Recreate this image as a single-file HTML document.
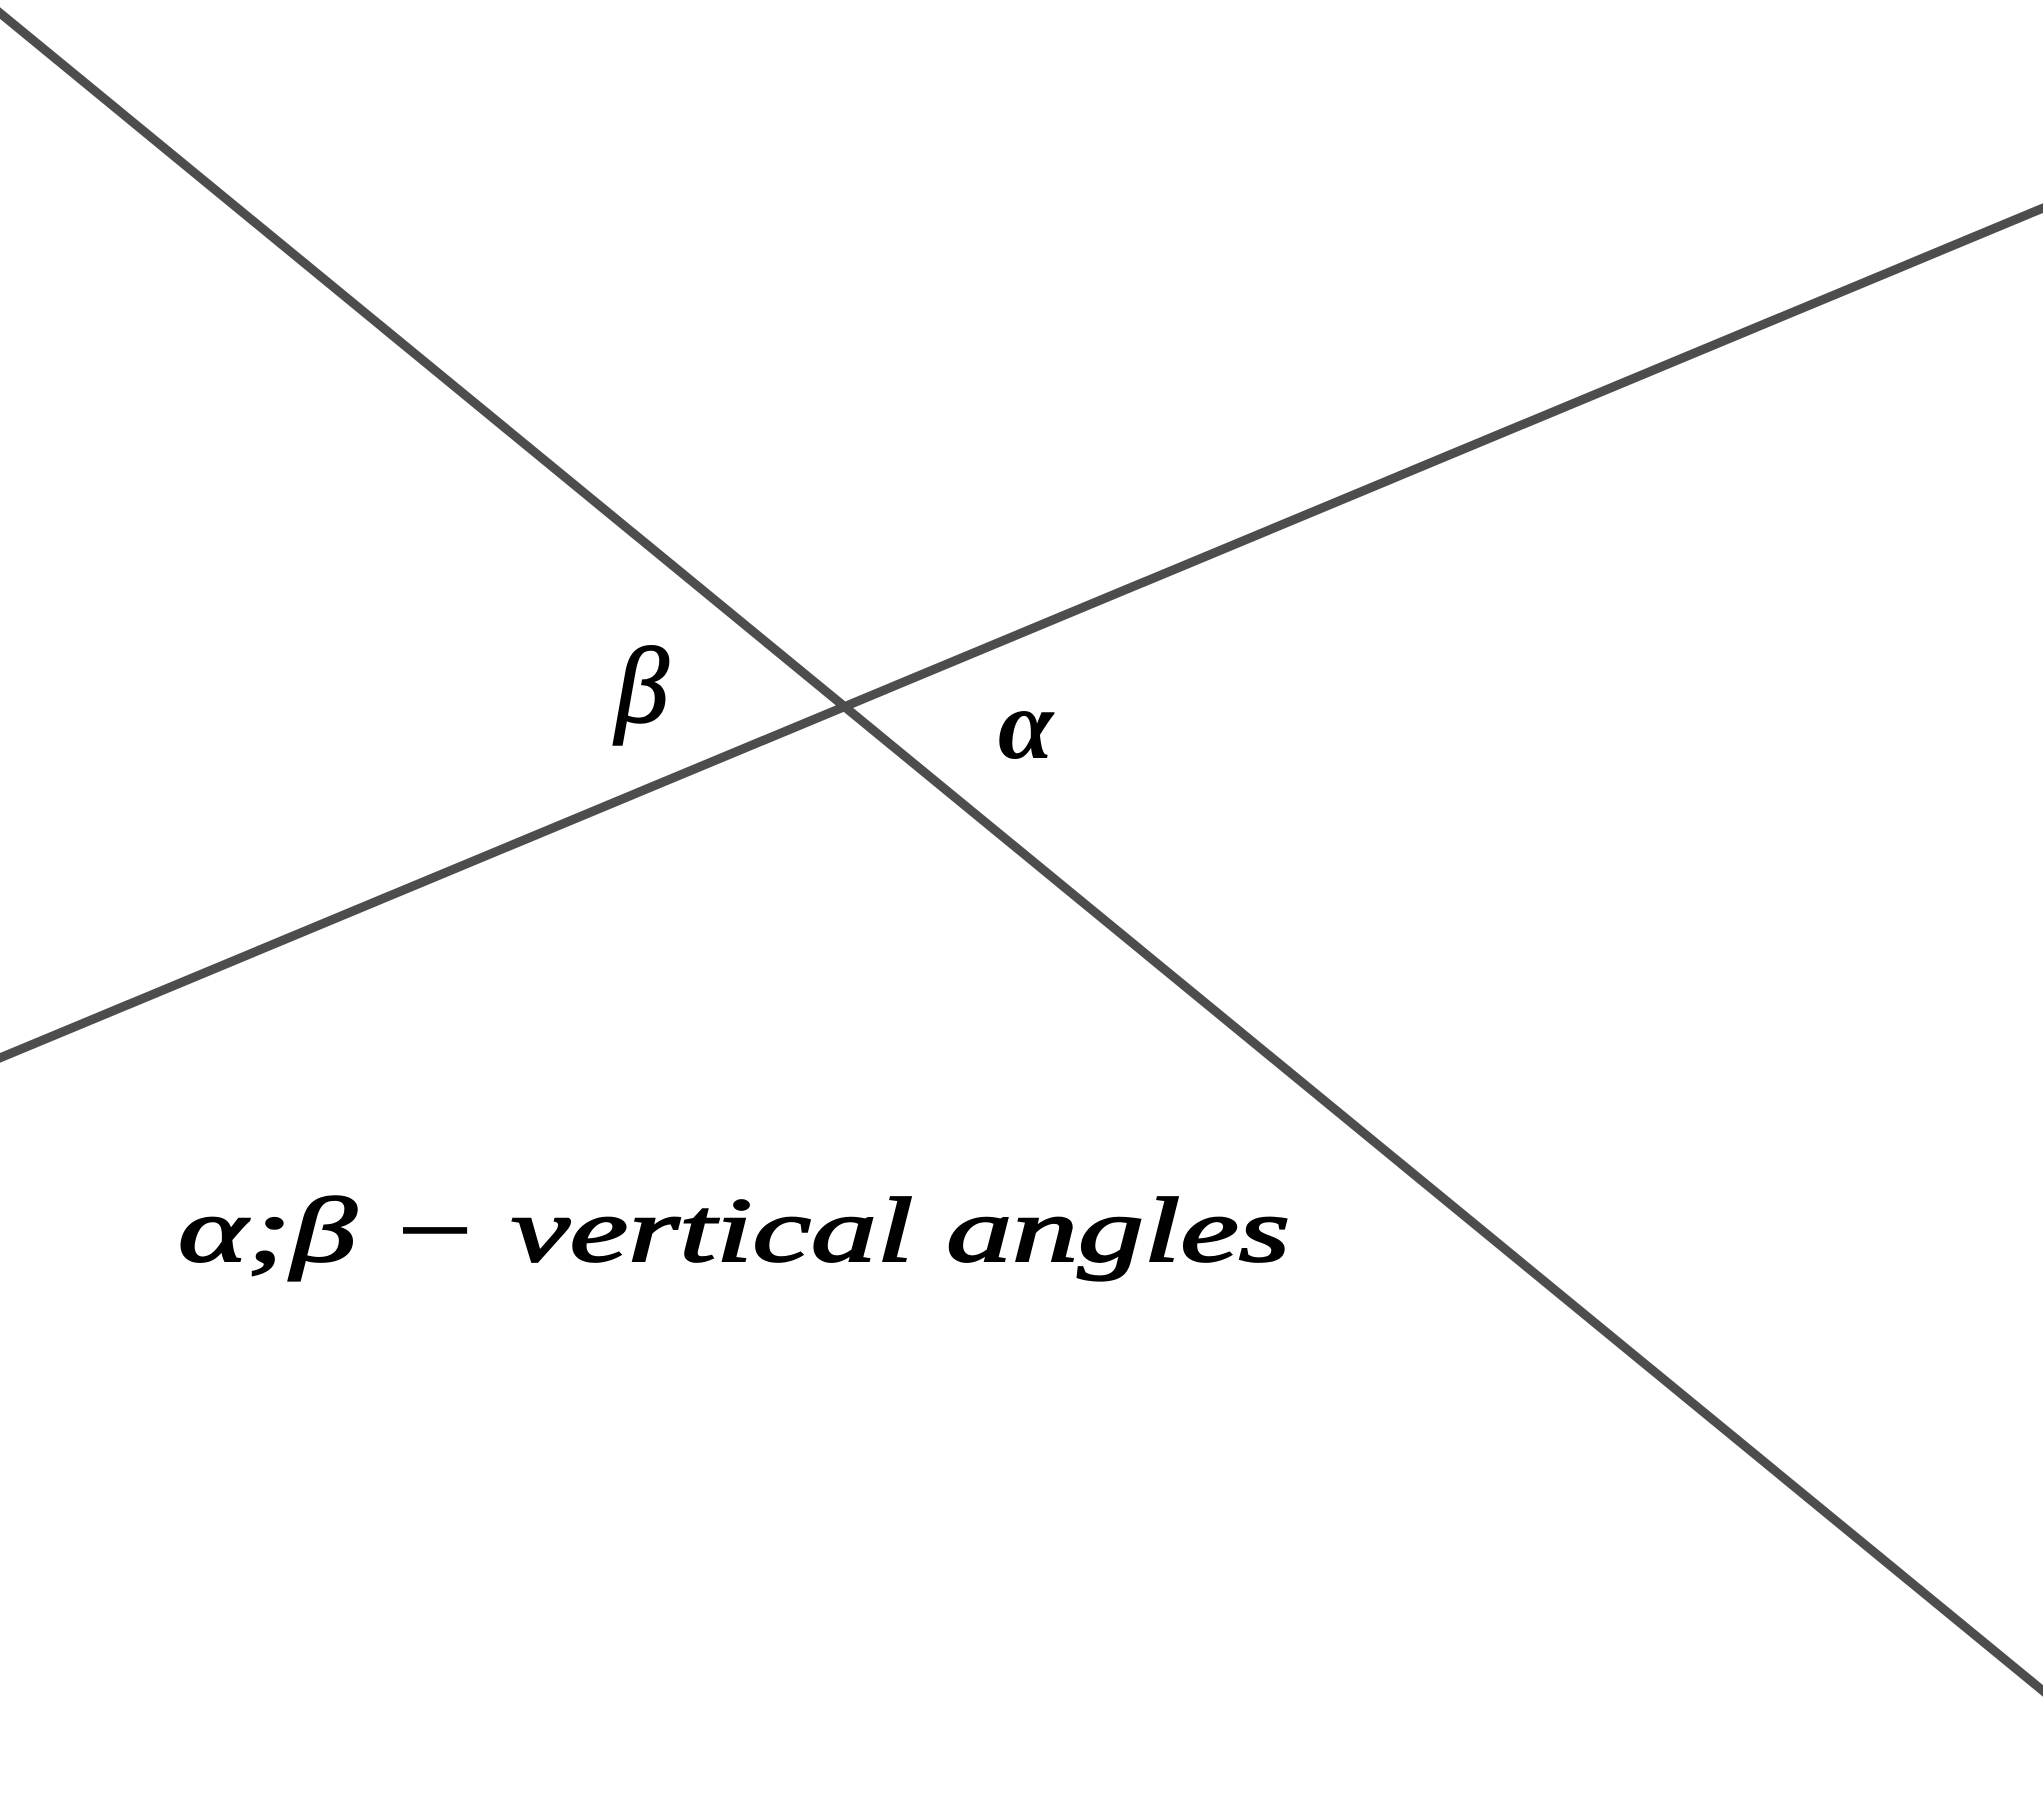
<!DOCTYPE html>
<html>
<head>
<meta charset="utf-8">
<style>
html,body{margin:0;padding:0;background:#fff;}
svg{display:block;}
</style>
</head>
<body>
<svg width="2043" height="1807" viewBox="0 0 2043 1807" xmlns="http://www.w3.org/2000/svg">
<rect width="2043" height="1807" fill="#fff"/>
<line x1="-5" y1="9" x2="2048" y2="1695" stroke="#4d4d4d" stroke-width="9"/>
<line x1="-5" y1="1060" x2="2048" y2="206" stroke="#4d4d4d" stroke-width="9"/>
<text x="615" y="722" font-family="Liberation Serif, serif" font-style="italic" font-size="108" fill="#000" stroke="#000" stroke-width="1.5">β</text>
<text x="998" y="758" font-family="Liberation Serif, serif" font-style="italic" font-weight="bold" font-size="100" fill="#000">α</text>
<text x="178" y="1261" font-family="Liberation Serif, serif" font-style="italic" font-size="92" fill="#000" stroke="#000" stroke-width="2" textLength="1112" lengthAdjust="spacingAndGlyphs">α;β − vertical angles</text>
</svg>
</body>
</html>
